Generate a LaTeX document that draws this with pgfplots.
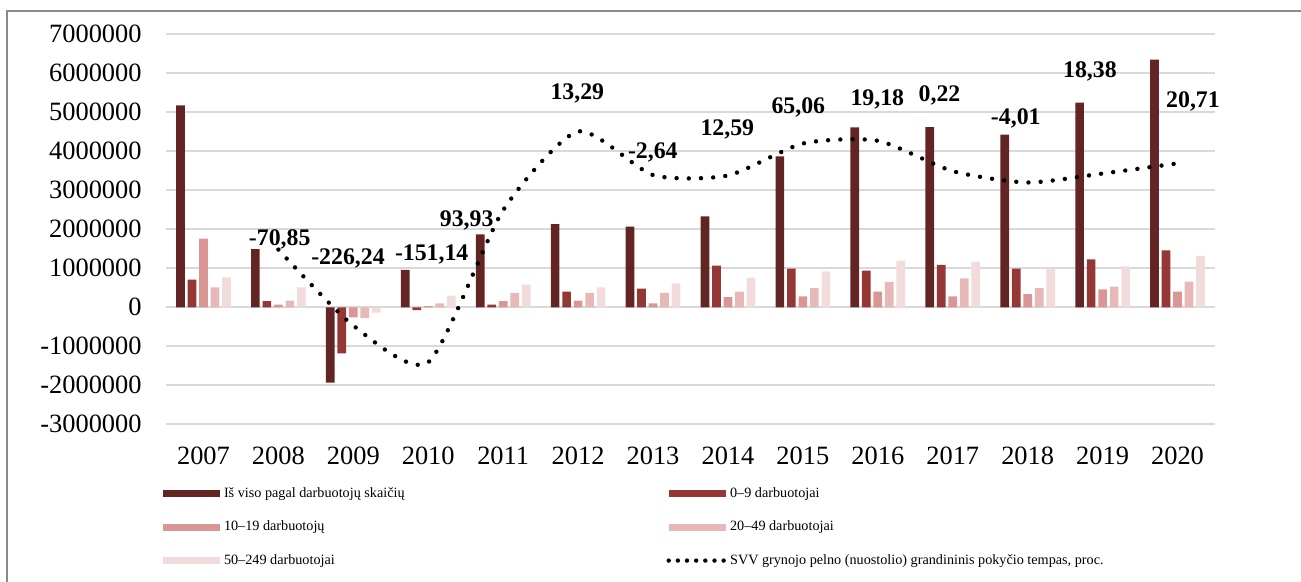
\documentclass[border=0pt]{standalone}
\usepackage{pgfplots}
\pgfplotsset{compat=1.18}
\usepackage{fontspec}
\setmainfont{Liberation Serif}
\definecolor{cA}{HTML}{632523}
\definecolor{cB}{HTML}{953735}
\definecolor{cC}{HTML}{D99694}
\definecolor{cD}{HTML}{E6B9B8}
\definecolor{cE}{HTML}{F2DCDB}
\definecolor{gridgray}{HTML}{D9D9D9}
\definecolor{framegray}{HTML}{8A8A8A}
\pgfplotsset{
  barleg/.style={legend image code/.code={\fill[#1] (0pt,-1.75pt) rectangle (28.5pt,1.75pt);}},
}
\begin{document}
\begin{tikzpicture}
\path[use as bounding box] (-83pt,-78.85pt) rectangle (567.5pt,212.15pt);
\draw[framegray, line width=0.9pt] (-79.5pt,-120pt) rectangle (620pt,206.8pt);
\begin{axis}[
  at={(0pt,0pt)}, anchor=south west,
  scale only axis, width=524.5pt, height=195pt,
  xmin=-0.5, xmax=13.5, ymin=-3000000, ymax=7000000,
  scaled y ticks=false,
  axis line style={draw=none}, major tick length=0pt,
  ymajorgrids, grid style={color=gridgray, line width=0.8pt},
  xtick={0,1,2,3,4,5,6,7,8,9,10,11,12,13},
  xticklabels={2007,2008,2009,2010,2011,2012,2013,2014,2015,2016,2017,2018,2019,2020},
  ytick={-3000000,-2000000,-1000000,0,1000000,2000000,3000000,4000000,5000000,6000000,7000000},
  yticklabels={-3000000,-2000000,-1000000,0,1000000,2000000,3000000,4000000,5000000,6000000,7000000},
  tick label style={font=\fontsize{13.2}{15}\selectfont, inner sep=0pt},
  yticklabel style={xshift=-12pt},
  xticklabel style={yshift=-11.2pt},
  clip=false,
  legend columns=2,
  legend cell align=left,
  legend style={at={(axis description cs:-0.00286,-0.162)}, anchor=north west,
    draw=none, fill=none, inner sep=0pt, outer sep=0pt, row sep=10.15pt,
    font=\fontsize{7.1}{8}\selectfont,
    nodes={inner sep=0pt, text height=5pt, text depth=1.5pt},
    /tikz/every odd column/.append style={column sep=2pt}},
]
\addplot[ybar, bar width=4.35pt, bar shift=-11.5pt, fill=cA, draw=none, barleg=cA] coordinates {
(0,5180000) (1,1490000) (2,-1930000) (3,960000) (4,1870000) (5,2130000) (6,2070000)
(7,2330000) (8,3870000) (9,4610000) (10,4620000) (11,4430000) (12,5250000) (13,6350000)};
\addlegendentry{\makebox[221.25pt][l]{Iš viso pagal darbuotojų skaičių}}
\addplot[ybar, bar width=4.35pt, bar shift=-5.75pt, fill=cB, draw=none, barleg=cB] coordinates {
(0,710000) (1,160000) (2,-1180000) (3,-70000) (4,70000) (5,400000) (6,480000)
(7,1070000) (8,990000) (9,940000) (10,1090000) (11,990000) (12,1230000) (13,1460000)};
\addlegendentry{0–9 darbuotojai}
\addplot[ybar, bar width=4.35pt, bar shift=0pt, fill=cC, draw=none, barleg=cC] coordinates {
(0,1760000) (1,70000) (2,-260000) (3,30000) (4,160000) (5,170000) (6,100000)
(7,260000) (8,280000) (9,400000) (10,280000) (11,340000) (12,460000) (13,400000)};
\addlegendentry{\makebox[221.25pt][l]{10–19 darbuotojų}}
\addplot[ybar, bar width=4.35pt, bar shift=5.75pt, fill=cD, draw=none, barleg=cD] coordinates {
(0,510000) (1,170000) (2,-280000) (3,100000) (4,370000) (5,370000) (6,370000)
(7,400000) (8,490000) (9,650000) (10,740000) (11,490000) (12,530000) (13,660000)};
\addlegendentry{20–49 darbuotojai}
\addplot[ybar, bar width=4.35pt, bar shift=11.5pt, fill=cE, draw=none, barleg=cE] coordinates {
(0,770000) (1,510000) (2,-140000) (3,300000) (4,580000) (5,510000) (6,610000)
(7,760000) (8,920000) (9,1190000) (10,1170000) (11,1000000) (12,1050000) (13,1320000)};
\addlegendentry{\makebox[221.25pt][l]{50–249 darbuotojai}}
\addplot[smooth, /tikz/tension=0.4, black, line width=2.2pt, dash pattern=on 0pt off 6.1pt, line cap=round,
  legend image code/.code={\draw[black, line width=2.2pt, dash pattern=on 0pt off 4.58pt, line cap=round] (0pt,0pt) -- (27.6pt,0pt);}]
coordinates {
(1,1480000) (2,-470000) (3,-1410000) (4,2490000) (5,4510000) (6,3390000) (7,3380000)
(8,4200000) (9,4270000) (10,3490000) (11,3200000) (12,3430000) (13,3690000)};
\addlegendentry{SVV grynojo pelno (nuostolio) grandininis pokyčio tempas, proc.}
\addplot[draw=none, forget plot, nodes near coords, point meta=explicit symbolic,
  nodes near coords style={anchor=center, inner sep=0pt, text=black, font=\bfseries\fontsize{11.9}{13}\selectfont}]
coordinates {
(1.017,1740000) [-70,85]
(1.929,1240000) [-226,24]
(3.046,1350000) [-151,14]
(3.513,2230000) [93,93]
(4.989,5470000) [13,29]
(5.997,3960000) [-2,64]
(6.991,4570000) [12,59]
(7.939,5130000) [65,06]
(8.993,5330000) [19,18]
(9.823,5420000) [0,22]
(10.841,4840000) [-4,01]
(11.831,6060000) [18,38]
(13.206,5270000) [20,71]
};
\end{axis}
\end{tikzpicture}
\end{document}
